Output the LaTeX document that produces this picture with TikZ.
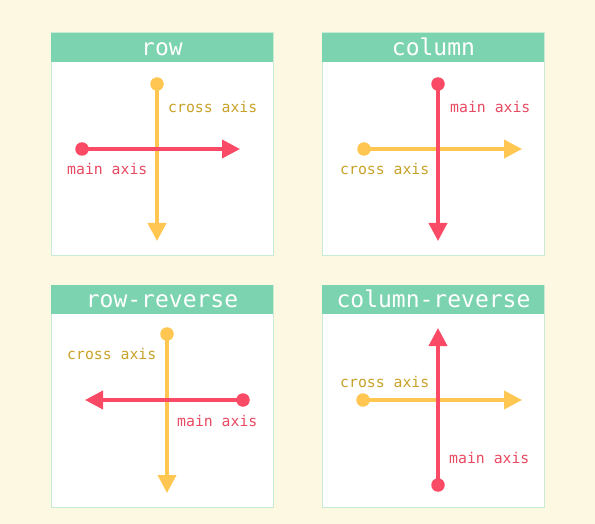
\documentclass[tikz,border=0pt]{standalone}
\usepackage{fontspec}
\setmonofont{DejaVu Sans Mono}
\usetikzlibrary{arrows.meta}
\definecolor{bgc}{HTML}{FDF8E1}
\definecolor{barc}{HTML}{7BD3AF}
\definecolor{edgec}{HTML}{C8EBD4}
\definecolor{redc}{HTML}{FA4A66}
\definecolor{yelc}{HTML}{FFC651}
\definecolor{redt}{HTML}{E84A62}
\definecolor{yelt}{HTML}{C9A22A}
\tikzset{
  panel/.style={draw=edgec, line width=1pt, fill=white},
  bar/.style={fill=barc},
  ttl/.style={text=white, font=\ttfamily\fontsize{23}{23}\selectfont, inner sep=0pt, anchor=base},
  dotr/.style={circle, fill=redc, minimum size=13.5pt, inner sep=0pt},
  doty/.style={circle, fill=yelc, minimum size=13.5pt, inner sep=0pt},
  axr/.style={draw=redc, line width=3.8pt, -{Triangle[length=18pt,width=18pt]}},
  axy/.style={draw=yelc, line width=3.8pt, -{Triangle[length=18pt,width=18pt]}},
  lblr/.style={text=redt, font=\ttfamily\fontsize{14.8}{14.8}\selectfont, inner sep=0pt, anchor=west},
  lbly/.style={text=yelt, font=\ttfamily\fontsize{14.8}{14.8}\selectfont, inner sep=0pt, anchor=west},
}
\begin{document}
\begin{tikzpicture}[x=1pt,y=-1pt]
\fill[bgc] (0,0) rectangle (595,524);
\useasboundingbox (0,0) rectangle (595,524);
% panels
\foreach \px/\py in {51/33,322/33,51/285,322/285}{
  \draw[panel] (\px,\py) rectangle ++(222,222);
  \fill[bar] (\px,\py) rectangle ++(222,29);
}
\node[ttl] (t1) at (162,55.5) {row};
\node[ttl] (t2) at (433.5,55.5) {column};
\node[ttl] (t3) at (162,307.5) {row-reverse};
\node[ttl] (t4) at (433.5,307.5) {column-reverse};
% panel 1: row
\node[doty] (y1) at (157,84) {};
\coordinate (y1e) at (157,241);
\node[dotr] (r1) at (82,149) {};
\coordinate (r1e) at (240,149);
\draw[axy] (y1.center) -- (y1e);
\draw[axr] (r1.center) -- (r1e);
\node[lbly] (c1) at (168,107) {cross axis};
\node[lblr] (m1) at (67,169) {main axis};
% panel 2: column
\node[doty] (y2) at (364,149) {};
\coordinate (y2e) at (522,149);
\node[dotr] (r2) at (438,84) {};
\coordinate (r2e) at (438,241);
\draw[axy] (y2.center) -- (y2e);
\draw[axr] (r2.center) -- (r2e);
\node[lblr] (m2) at (450,107) {main axis};
\node[lbly] (c2) at (340,169) {cross axis};
% panel 3: row-reverse
\node[doty] (y3) at (167,334) {};
\coordinate (y3e) at (167,493);
\node[dotr] (r3) at (243,400) {};
\coordinate (r3e) at (85,400);
\draw[axy] (y3.center) -- (y3e);
\draw[axr] (r3.center) -- (r3e);
\node[lbly] (c3) at (67,354) {cross axis};
\node[lblr] (m3) at (177,421) {main axis};
% panel 4: column-reverse
\node[doty] (y4) at (363,400) {};
\coordinate (y4e) at (522,400);
\node[dotr] (r4) at (438,485) {};
\coordinate (r4e) at (438,328);
\draw[axy] (y4.center) -- (y4e);
\draw[axr] (r4.center) -- (r4e);
\node[lbly] (c4) at (340,382) {cross axis};
\node[lblr] (m4) at (449,458) {main axis};
\end{tikzpicture}
\end{document}
